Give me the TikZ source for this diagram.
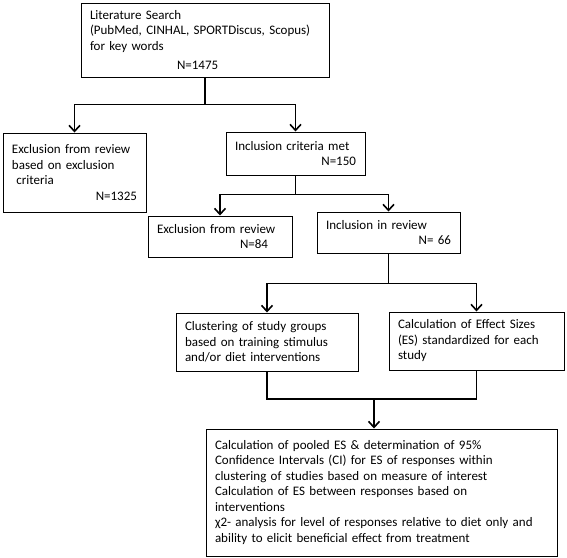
\documentclass[tikz,border=0pt]{standalone}
\usepackage{fontspec}
\setmainfont{Carlito}
\usetikzlibrary{arrows.meta}
\newcommand\rpush{\hspace*{0pt plus 1filll}}
\begin{document}
\begin{tikzpicture}[x=1pt,y=-1pt,
  box/.style={draw, line width=1pt, rectangle, inner xsep=9pt, inner ysep=0pt, align=left,
    font=\fontsize{13}{15.5}\selectfont},
  conn/.style={line width=1.3pt},
  arr/.style={conn, -{Straight Barb[length=6pt,width=11pt,line width=1.6pt]}}
]
\useasboundingbox (0,0) rectangle (567,557);

\node[box, text width=230pt, minimum height=74pt] (b1) at (205,40)
  {Literature Search\\ (PubMed, CINHAL, SPORTDiscus, Scopus)\\for key words\\[4pt]\hspace*{87pt}N=1475};
\node[box, text width=125pt, minimum height=79pt] (b2) at (74.5,172.5)
  {Exclusion from review\\based on exclusion\\ \ criteria\\\rpush N=1325};
\node[box, text width=121pt, minimum height=43pt] (b3) at (295.5,153.5)
  {Inclusion criteria met\\\rpush N=150\hspace*{4pt}};
\node[box, text width=126pt, minimum height=41pt] (b4) at (220,236.5)
  {Exclusion from review\\\hspace*{83pt}N=84};
\node[box, text width=125pt, minimum height=41pt] (b5) at (388.5,232.5)
  {Inclusion in review\\\rpush N= 66\hspace*{10pt}};
\node[box, text width=164pt, minimum height=58pt] (b6) at (267,342)
  {Clustering of study groups\\based on training stimulus\\and/or diet interventions};
\node[box, text width=157pt, minimum height=58pt] (b7) at (476.5,341)
  {Calculation of Effect Sizes\\(ES) standardized for each\\study};
\node[box, text width=333pt, minimum height=127pt] (b8) at (381.5,492.5)
  {Calculation of pooled ES \& determination of 95\%\\
   Confidence Intervals (CI) for ES of responses within\\
   clustering of studies based on measure of interest\\
   Calculation of ES between responses based on\\
   interventions\\
   χ2- analysis for level of responses relative to diet only and\\
   ability to elicit beneficial effect from treatment};

\draw[conn] (b1.south) -- ++(0,27) coordinate (j1);
\draw[arr] (j1) -| (b2.north);
\draw[arr] (j1) -| (b3.north);
\draw[conn] (b3.south) -- ++(0,19) coordinate (j2);
\draw[arr] (j2) -| (b4.north);
\draw[arr] (j2) -| (b5.north);
\draw[conn] (b5.south) -- ++(0,30) coordinate (j3);
\draw[arr] (j3) -| (b6.north);
\draw[arr] (j3) -| (b7.north);
\coordinate (j4) at (374,399);
\draw[conn] (b6.south) |- (j4) -| (b7.south);
\draw[arr] (j4) -- (j4 |- b8.north);
\end{tikzpicture}
\end{document}
